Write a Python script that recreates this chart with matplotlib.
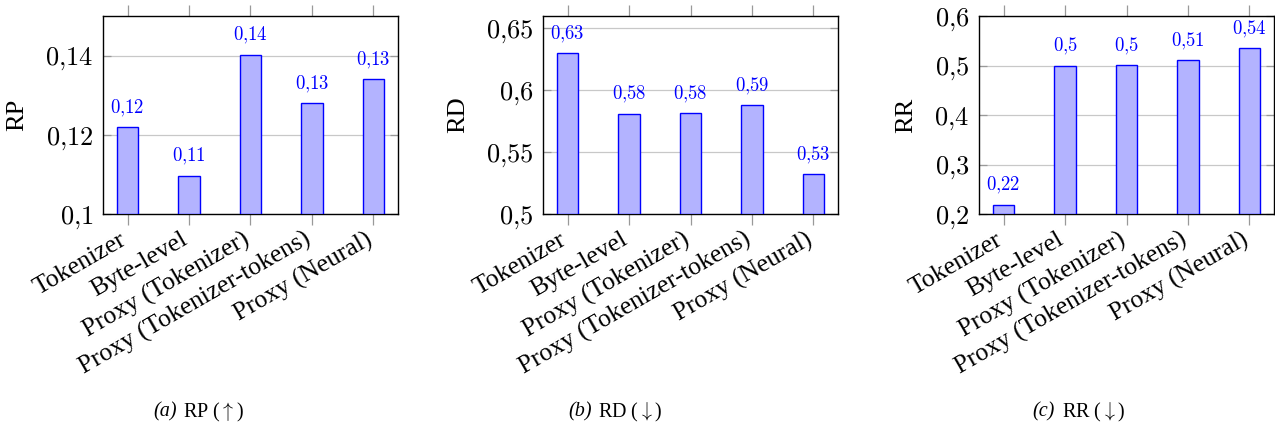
import matplotlib
matplotlib.use("Agg")
from matplotlib import pyplot as plt
from matplotlib import transforms as mtransforms
from matplotlib.ticker import FuncFormatter

plt.rcParams['mathtext.fontset'] = 'cm'
plt.rcParams['font.family'] = ['Liberation Serif', 'STIXGeneral', 'DejaVu Serif']

# data
methods = ["Tokenizer", "Byte-level", "Proxy (Tokenizer)",
           "Proxy (Tokenizer-tokens)", "Proxy (Neural)"]
rp = [0.1219, 0.1097, 0.1402, 0.1280, 0.1341]
rd = [0.6297, 0.5810, 0.5816, 0.5880, 0.5320]
rr = [0.2190, 0.5000, 0.5006, 0.5110, 0.5354]

panels = [
    ("RP", rp, (0.1, 0.15), [0.1, 0.12, 0.14], "(a)", r"RP ($\uparrow$)"),
    ("RD", rd, (0.5, 0.66), [0.5, 0.55, 0.6, 0.65], "(b)", r"RD ($\downarrow$)"),
    ("RR", rr, (0.2, 0.6), [0.2, 0.3, 0.4, 0.5, 0.6], "(c)", r"RR ($\downarrow$)"),
]
lefts = [103, 543, 979]
label_x = [-0.254, -0.251, -0.21]
tag_right = [177, 592, 1055]
cap_left = [183, 598, 1062]

W, H = 1275, 428
fig = plt.figure(figsize=(W / 100, H / 100), dpi=100)


def comma(v, pos=None):
    s = ("%.2f" % v).rstrip("0").rstrip(".")
    return r"$" + s.replace(".", "{,}") + r"$"


shift = mtransforms.ScaledTranslation(-11 / 100, 0, fig.dpi_scale_trans)

for i, (name, vals, ylim, yticks, tag, cap) in enumerate(panels):
    ax = fig.add_axes([lefts[i] / W, 1 - 214 / H, 295 / W, 198 / H])
    xs = list(range(len(methods)))
    ax.bar(xs, [v - ylim[0] for v in vals], bottom=ylim[0], width=0.35,
           color="#b3b3ff", edgecolor="blue", linewidth=1, zorder=3)
    for x, v in zip(xs, vals):
        ax.annotate(comma(round(v, 2)), (x, v), xytext=(0, 6),
                    textcoords="offset points", ha="center", va="bottom",
                    color="blue", fontsize=13.5, zorder=4)
    ax.set_xlim(-0.4, 4.4)
    ax.set_ylim(*ylim)
    ax.set_yticks(yticks)
    ax.yaxis.set_major_formatter(FuncFormatter(comma))
    ax.set_xticks(xs)
    ax.set_xticklabels(methods, rotation=30, ha="right", va="baseline",
                       rotation_mode="anchor", fontsize=18.5)
    for lbl in ax.get_xticklabels():
        lbl.set_transform(lbl.get_transform() + shift)
    ax.grid(axis="y", color="#c8c8c8", linewidth=0.9, zorder=0)
    ax.tick_params(axis="x", direction="out", length=8, color="#999999",
                   top=True, bottom=True, pad=13, width=0.9)
    ax.tick_params(axis="y", direction="in", length=6, color="#999999",
                   left=True, right=True, labelsize=19, pad=7, width=0.9)
    for sp in ax.spines.values():
        sp.set_linewidth(1.0)
    ax.set_ylabel(name, fontsize=19)
    ax.yaxis.set_label_coords(label_x[i], 0.5)

    fig.text(tag_right[i] / W, 1 - 412 / H, tag, ha="right", va="center",
             fontsize=14.5, style="italic")
    fig.text(cap_left[i] / W, 1 - 412 / H, cap, ha="left", va="center",
             fontsize=14.5)

fig.savefig("out.png", dpi=100)
